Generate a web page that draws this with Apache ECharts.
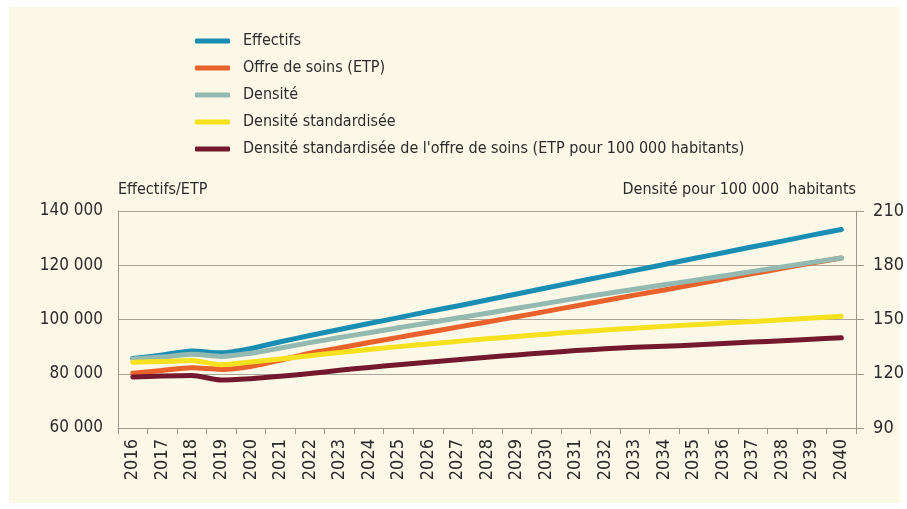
<!DOCTYPE html>
<html>
<head>
<meta charset="utf-8">
<script src="https://cdn.jsdelivr.net/npm/echarts@6/dist/echarts.min.js"></script>
<style>
html,body{margin:0;padding:0;background:#ffffff;width:907px;height:509px;overflow:hidden;}
#bg{position:absolute;left:9px;top:7px;width:891px;height:496px;background:#fbf8e7;}
#chart{position:absolute;left:0;top:0;width:907px;height:509px;}
</style>
</head>
<body>
<div id="bg"></div>
<div id="chart"></div>
<script>
const years = ['2016','2017','2018','2019','2020','2021','2022','2023','2024','2025','2026','2027','2028','2029','2030','2031','2032','2033','2034','2035','2036','2037','2038','2039','2040'];
const seriesNames = ['Effectifs','Offre de soins (ETP)','Densité','Densité standardisée',"Densité standardisée de l'offre de soins (ETP pour 100 000 habitants)"];
const effectifs = [85600,86900,88400,87700,89300,91800,94100,96300,98500,100700,102900,105000,107200,109400,111600,113800,116000,118100,120300,122500,124600,126800,128900,131100,133200];
const offreSoins = [80200,81200,82200,81600,82700,85000,87600,89500,91500,93400,95300,97200,99100,101000,103000,105000,107000,109000,110900,112900,114900,116900,118900,120800,122700];
const densite = [128.2,129.2,130.8,129.6,131.3,134.2,137.2,140.0,142.7,145.4,148.1,150.8,153.5,156.2,158.9,161.7,164.2,166.7,169.2,171.6,174.1,176.6,179.1,181.6,184.0];
const densiteStd = [126.3,126.8,127.3,125.0,126.5,128.2,130.0,131.8,133.4,135.0,136.5,137.9,139.3,140.6,141.9,143.1,144.2,145.2,146.2,147.1,148.0,148.9,149.8,150.8,151.8];
const densiteStdOffre = [118.2,118.7,119.0,116.5,117.3,118.6,120.1,121.9,123.5,125.0,126.4,127.8,129.1,130.4,131.6,132.8,133.8,134.7,135.2,135.9,136.7,137.5,138.3,139.1,139.9];
const leftAxisName = 'Effectifs/ETP';
const rightAxisName = 'Densité pour 100 000  habitants';
const colors = ['#1a8db3','#e9622b','#93b9b1','#f6e11f','#74182f'];

const FONT = "'DejaVu Sans Condensed','Liberation Sans',sans-serif";
const TXT = '#2b2b2b';
const fmt = v => String(v).replace(/\B(?=(\d{3})+(?!\d))/g, ' ');

const chart = echarts.init(document.getElementById('chart'), null, {renderer:'canvas'});
const dataSets = [effectifs, offreSoins, densite, densiteStd, densiteStdOffre];
const axisIdx = [0,0,1,1,1];

chart.setOption({
  backgroundColor: 'transparent',
  animation: false,
  color: colors,
  legend: {
    orient: 'vertical',
    left: 190,
    top: 28,
    icon: 'roundRect',
    itemWidth: 35,
    itemHeight: 5,
    itemGap: 11,
    textStyle: {fontFamily: FONT, fontSize: 16, color: TXT, padding: [0,0,0,8]},
    data: seriesNames
  },
  grid: {left: 118, right: 50, top: 211, bottom: 81, containLabel: false},
  xAxis: {
    type: 'category',
    data: years,
    boundaryGap: true,
    axisLine: {show: true, lineStyle: {color: '#9c988e', width: 1}},
    axisTick: {show: true, length: 6, lineStyle: {color: '#9c988e'}},
    axisLabel: {rotate: 90, interval: 0, margin: 11, fontFamily: FONT, fontSize: 18, color: TXT},
    splitLine: {show: false}
  },
  yAxis: [
    {
      type: 'value', min: 60000, max: 140000, interval: 20000,
      name: leftAxisName, nameLocation: 'end', nameGap: 13,
      nameTextStyle: {fontFamily: FONT, fontSize: 16, color: TXT, align: 'left'},
      axisLine: {show: true, lineStyle: {color: '#9c988e'}},
      axisTick: {show: false},
      axisLabel: {formatter: fmt, fontFamily: FONT, fontSize: 17, color: TXT, margin: 15},
      splitLine: {show: true, lineStyle: {color: '#aaa599', width: 1}}
    },
    {
      type: 'value', min: 90, max: 210, interval: 30, position: 'right',
      name: rightAxisName, nameLocation: 'end', nameGap: 13,
      nameTextStyle: {fontFamily: FONT, fontSize: 16, color: TXT, align: 'right'},
      axisLine: {show: true, lineStyle: {color: '#9c988e'}},
      axisTick: {show: true, length: 8, inside: false, lineStyle: {color: '#9c988e'}},
      axisLabel: {fontFamily: FONT, fontSize: 18, color: TXT, margin: 17},
      splitLine: {show: false}
    }
  ],
  series: seriesNames.map((n, i) => ({
    name: n,
    type: 'line',
    yAxisIndex: axisIdx[i],
    data: dataSets[i],
    showSymbol: false,
    symbol: 'none',
    smooth: 0.25,
    lineStyle: {width: 5, color: colors[i], cap: 'round', join: 'round'},
    itemStyle: {color: colors[i]}
  }))
});
</script>
</body>
</html>
